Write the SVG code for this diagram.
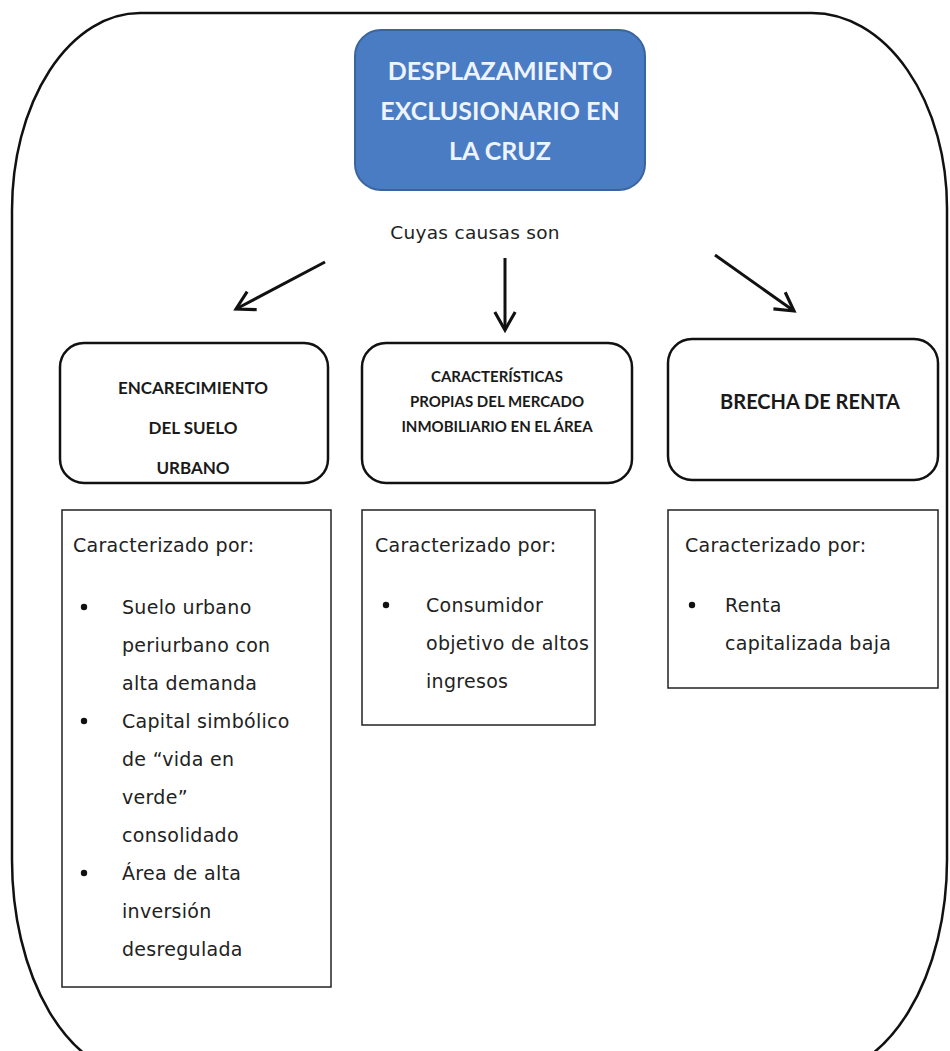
<svg xmlns="http://www.w3.org/2000/svg" width="950" height="1051" viewBox="0 0 950 1051">
<defs>
<marker id="ah" viewBox="0 0 20 20" refX="17" refY="10" markerWidth="8" markerHeight="8" orient="auto" markerUnits="strokeWidth">
<path d="M2,1.5 L17,10 L2,18.5" fill="none" stroke="#111" stroke-width="2.6"/>
</marker>
<style>
.frame{fill:none;stroke:#111;stroke-width:2.5}
.cause{fill:#fff;stroke:#111;stroke-width:2.5}
.desc{fill:#fff;stroke:#222;stroke-width:1.5}
.hdr{font-family:Lato,"Liberation Sans",sans-serif;font-weight:bold;fill:#1a1a1a;text-anchor:middle}
.ttl{font-family:Lato,"Liberation Sans",sans-serif;font-weight:bold;fill:#eef4ff;text-anchor:middle;font-size:25px}
.body{font-family:"DejaVu Sans","Liberation Sans",sans-serif;font-size:19px;letter-spacing:0.3px;fill:#222}
.arr{stroke:#111;stroke-width:3;fill:none;marker-end:url(#ah)}
</style>
</defs>
<rect width="950" height="1051" fill="#fff"/>
<path class="frame" d="M12,210 A128,197 0 0 1 140,13 L812,13 A135,195 0 0 1 947,208 L947,860 A132,215 0 0 1 815,1075 L140,1075 A128,215 0 0 1 12,860 Z"/>
<g id="title">
<rect x="355" y="30" width="290" height="160" rx="26" fill="#4a7cc4" stroke="#3a649e" stroke-width="2"/>
<text class="ttl" x="500" y="80">DESPLAZAMIENTO</text>
<text class="ttl" x="500" y="120">EXCLUSIONARIO EN</text>
<text class="ttl" x="500" y="160">LA CRUZ</text>
</g>
<g id="label">
<text class="body" x="475" y="239" text-anchor="middle" style="font-size:18.5px;letter-spacing:0.3px">Cuyas causas son</text>
</g>
<g id="connectors">
<line class="arr" x1="325" y1="262" x2="236" y2="309"/>
<line class="arr" x1="505" y1="258" x2="505" y2="330"/>
<line class="arr" x1="715" y1="255" x2="794" y2="311"/>
</g>
<g id="cause1">
<rect class="cause" x="60" y="343" width="268" height="140" rx="24"/>
<text class="hdr" x="193" y="394" font-size="17">ENCARECIMIENTO</text>
<text class="hdr" x="193" y="434" font-size="17">DEL SUELO</text>
<text class="hdr" x="193" y="474" font-size="17">URBANO</text>
</g>
<g id="cause2">
<rect class="cause" x="362" y="343" width="270" height="140" rx="24"/>
<text class="hdr" x="497" y="382" font-size="15">CARACTERÍSTICAS</text>
<text class="hdr" x="497" y="407" font-size="15">PROPIAS DEL MERCADO</text>
<text class="hdr" x="497" y="432" font-size="15">INMOBILIARIO EN EL ÁREA</text>
</g>
<g id="cause3">
<rect class="cause" x="668" y="339" width="270" height="141" rx="24"/>
<text class="hdr" x="810" y="409" font-size="20">BRECHA DE RENTA</text>
</g>
<g id="desc1">
<rect class="desc" x="62" y="510" width="269" height="477"/>
<text class="body" x="73" y="552">Caracterizado por:</text>
<circle cx="84" cy="607" r="3.2" fill="#111"/>
<text class="body" x="122" y="614">Suelo urbano</text>
<text class="body" x="122" y="652">periurbano con</text>
<text class="body" x="122" y="690">alta demanda</text>
<circle cx="84" cy="721" r="3.2" fill="#111"/>
<text class="body" x="122" y="728">Capital simbólico</text>
<text class="body" x="122" y="766">de “vida en</text>
<text class="body" x="122" y="804">verde”</text>
<text class="body" x="122" y="842">consolidado</text>
<circle cx="84" cy="873" r="3.2" fill="#111"/>
<text class="body" x="122" y="880">Área de alta</text>
<text class="body" x="122" y="918">inversión</text>
<text class="body" x="122" y="956">desregulada</text>
</g>
<g id="desc2">
<rect class="desc" x="362" y="510" width="233" height="215"/>
<text class="body" x="375" y="552">Caracterizado por:</text>
<circle cx="386" cy="605" r="3.2" fill="#111"/>
<text class="body" x="426" y="612">Consumidor</text>
<text class="body" x="426" y="650">objetivo de altos</text>
<text class="body" x="426" y="688">ingresos</text>
</g>
<g id="desc3">
<rect class="desc" x="668" y="510" width="270" height="178"/>
<text class="body" x="685" y="552">Caracterizado por:</text>
<circle cx="692" cy="605" r="3.2" fill="#111"/>
<text class="body" x="725" y="612">Renta</text>
<text class="body" x="725" y="650">capitalizada baja</text>
</g>
</svg>
